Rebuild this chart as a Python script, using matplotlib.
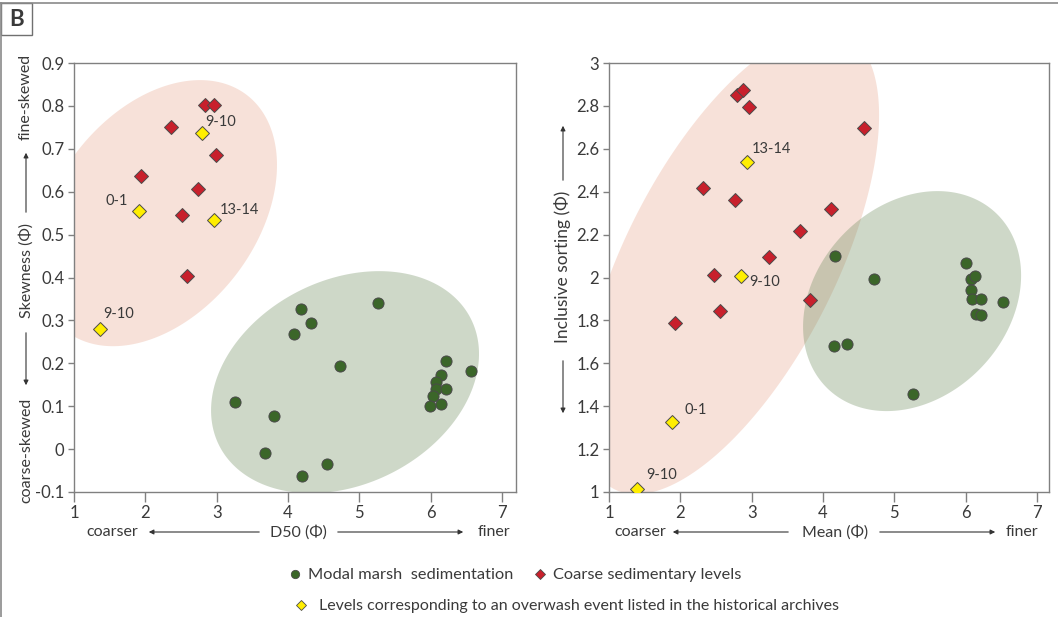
import numpy as np
import matplotlib
matplotlib.use("Agg")
import matplotlib.pyplot as plt
from matplotlib.patches import Polygon, Rectangle
from matplotlib.lines import Line2D

plt.rcParams['font.family'] = ['Lato', 'DejaVu Sans']

# ---------------- data ----------------
# Left panel: D50 vs Skewness
marsh_d50 = [5.26, 4.18, 4.32, 4.08, 4.73, 6.21, 6.56, 6.14, 6.07, 6.08, 6.21, 6.04, 5.99, 6.15,
             3.26, 3.81, 3.68, 4.55, 4.19]
marsh_skew = [0.340, 0.327, 0.295, 0.268, 0.193, 0.206, 0.182, 0.172, 0.157, 0.140, 0.140, 0.123,
              0.100, 0.105, 0.109, 0.078, -0.010, -0.034, -0.063]
coarse_d50 = [2.84, 2.96, 2.36, 2.99, 1.94, 2.74, 2.51, 2.58]
coarse_skew = [0.803, 0.803, 0.750, 0.685, 0.637, 0.607, 0.546, 0.403]
event_d50 = [2.80, 1.91, 2.96, 1.36]
event_skew = [0.737, 0.555, 0.535, 0.279]
event_labels_left = ["9-10", "0-1", "13-14", "9-10"]

# Right panel: Mean vs Inclusive sorting
marsh_mean = [4.17, 4.71, 6.00, 6.07, 6.13, 6.08, 6.09, 6.21, 6.53, 6.15, 6.21, 4.15, 4.34, 5.26]
marsh_sort = [2.100, 1.991, 2.067, 1.995, 2.005, 1.943, 1.901, 1.901, 1.886, 1.831, 1.823,
              1.679, 1.688, 1.458]
coarse_mean = [2.80, 2.88, 2.97, 4.57, 2.32, 2.76, 4.12, 3.68, 3.25, 2.47, 3.82, 2.56, 1.93]
coarse_sort = [2.852, 2.873, 2.793, 2.697, 2.416, 2.363, 2.319, 2.218, 2.097, 2.012, 1.894,
               1.844, 1.786]
event_mean = [2.94, 2.85, 1.89, 1.39]
event_sort = [2.540, 2.005, 1.326, 1.012]
event_labels_right = ["13-14", "9-10", "0-1", "9-10"]

left_yticks = [-0.1, 0, 0.1, 0.2, 0.3, 0.4, 0.5, 0.6, 0.7, 0.8, 0.9]
left_yticklabels = ["-0.1", "0", "0.1", "0.2", "0.3", "0.4", "0.5", "0.6", "0.7", "0.8", "0.9"]
right_yticks = [1, 1.2, 1.4, 1.6, 1.8, 2, 2.2, 2.4, 2.6, 2.8, 3]
right_yticklabels = ["1", "1.2", "1.4", "1.6", "1.8", "2", "2.2", "2.4", "2.6", "2.8", "3"]
xticks = [1, 2, 3, 4, 5, 6, 7]
xticklabels = ["1", "2", "3", "4", "5", "6", "7"]

# ---------------- style ----------------
W, H = 1058, 617
DPI = 100
GREEN = '#3b6629'
RED = '#c8202c'
YELLOW = '#ffee00'
EDGE = '#4a4a4a'
PINK_FILL = '#e8a58c'
GREEN_FILL = '#6b8a5a'
TXT = '#3a3a3a'
SPINE = '#808080'

fig = plt.figure(figsize=(W / DPI, H / DPI), dpi=DPI)

def px_axes(l, t, r, b):
    return fig.add_axes([l / W, 1 - b / H, (r - l) / W, (b - t) / H])

axL = px_axes(74, 63, 516, 492)
axR = px_axes(609, 63, 1049, 492)

axL.set_xlim(1, 7.197)
axL.set_ylim(-0.1, 0.9)
axR.set_xlim(1, 7.17)
axR.set_ylim(1, 3)

def ellipse(ax, cx, cy, a, b, ang, color, alpha):
    # semi-axes a, b given in pixels; centre in data coords
    c = ax.transData.transform((cx, cy))
    t = np.linspace(0, 2 * np.pi, 400)
    th = np.deg2rad(ang)
    xs = c[0] + a * np.cos(t) * np.cos(th) - b * np.sin(t) * np.sin(th)
    ys = c[1] + a * np.cos(t) * np.sin(th) + b * np.sin(t) * np.cos(th)
    pts = ax.transData.inverted().transform(np.column_stack([xs, ys]))
    ax.add_patch(Polygon(pts, closed=True, facecolor=color, alpha=alpha,
                         edgecolor='none', zorder=1))

ellipse(axL, 2.157, 0.550, 148.7, 100.5, 52.7, PINK_FILL, 0.33)
ellipse(axL, 4.80, 0.156, 140.9, 102.1, 26.7, GREEN_FILL, 0.33)
ellipse(axR, 2.70, 2.072, 255, 105, 63, PINK_FILL, 0.33)
ellipse(axR, 5.25, 1.890, 121.6, 95.9, 46.1, GREEN_FILL, 0.33)

def plot_panel(ax, mx, my, cx, cy, ex, ey):
    ax.plot(mx, my, 'o', ms=8, mfc=GREEN, mec=EDGE, mew=0.7, ls='none', zorder=3)
    ax.plot(cx, cy, 'D', ms=7, mfc=RED, mec=EDGE, mew=0.7, ls='none', zorder=3)
    ax.plot(ex, ey, 'D', ms=7, mfc=YELLOW, mec=EDGE, mew=0.7, ls='none', zorder=4)

plot_panel(axL, marsh_d50, marsh_skew, coarse_d50, coarse_skew, event_d50, event_skew)
plot_panel(axR, marsh_mean, marsh_sort, coarse_mean, coarse_sort, event_mean, event_sort)

# labels next to event points (offsets in pixels)
offL = [(3, 11, 'left'), (-11, 10, 'right'), (6, 10, 'left'), (4, 15, 'left')]
for x, y, lab, (dx, dy, ha) in zip(event_d50, event_skew, event_labels_left, offL):
    axL.annotate(lab, (x, y), xytext=(dx, dy), textcoords='offset pixels',
                 ha=ha, va='center', fontsize=10.5, color=TXT, zorder=5)
offR = [(4, 13, 'left'), (8, -6, 'left'), (12, 12, 'left'), (9, 14, 'left')]
for x, y, lab, (dx, dy, ha) in zip(event_mean, event_sort, event_labels_right, offR):
    axR.annotate(lab, (x, y), xytext=(dx, dy), textcoords='offset pixels',
                 ha=ha, va='center', fontsize=10.5, color=TXT, zorder=5)

for ax, yt, ytl in [(axL, left_yticks, left_yticklabels), (axR, right_yticks, right_yticklabels)]:
    ax.set_xticks(xticks)
    ax.set_xticklabels(xticklabels)
    ax.set_yticks(yt)
    ax.set_yticklabels(ytl)
    for s in ax.spines.values():
        s.set_color(SPINE)
        s.set_linewidth(1.0)
    ax.tick_params(axis='x', direction='out', length=7, width=1, color=SPINE,
                   labelsize=12, labelcolor=TXT, pad=2)
    ax.tick_params(axis='y', direction='out', length=4, width=1, color=SPINE,
                   labelsize=12, labelcolor=TXT, pad=3)
    ax.set_facecolor('none')

# ---------------- axis label composites ----------------
def ftext(x, y, s, **kw):
    fig.text(x / W, 1 - y / H, s, color=TXT, **kw)

def farrow(x0, y0, x1, y1):
    fig.add_artist(matplotlib.patches.FancyArrowPatch(
        (x0 / W, 1 - y0 / H), (x1 / W, 1 - y1 / H), transform=fig.transFigure,
        arrowstyle='-|>', mutation_scale=7, lw=0.8, color='#333333'))

# left y label
LX = 26
ftext(LX, 97, 'fine-skewed', rotation=90, ha='center', va='center', fontsize=11.5)
farrow(LX, 215, LX, 150)
ftext(LX, 271, 'Skewness (Φ)', rotation=90, ha='center', va='center', fontsize=11.5)
farrow(LX, 330, LX, 388)
ftext(LX, 450, 'coarse-skewed', rotation=90, ha='center', va='center', fontsize=11.5)

# right y label
farrow(563, 183, 563, 123)
ftext(563, 267, 'Inclusive sorting (Φ)', rotation=90, ha='center', va='center', fontsize=12.5)
farrow(563, 358, 563, 416)

# x labels
ytx = 532
ftext(112, ytx, 'coarser', ha='center', va='center', fontsize=11.5)
farrow(262, ytx, 146, ytx)
ftext(298, ytx, 'D50 (Φ)', ha='center', va='center', fontsize=11.5)
farrow(335, ytx, 466, ytx)
ftext(494, ytx, 'finer', ha='center', va='center', fontsize=11.5)

ftext(640, ytx, 'coarser', ha='center', va='center', fontsize=11.5)
farrow(791, ytx, 670, ytx)
ftext(835, ytx, 'Mean (Φ)', ha='center', va='center', fontsize=11.5)
farrow(877, ytx, 998, ytx)
ftext(1022, ytx, 'finer', ha='center', va='center', fontsize=11.5)

# ---------------- legends ----------------
h1 = [Line2D([], [], marker='o', ls='none', ms=6, mfc=GREEN, mec=EDGE, mew=0.6),
      Line2D([], [], marker='D', ls='none', ms=5, mfc=RED, mec=EDGE, mew=0.6)]
leg1 = fig.legend(h1, ['Modal marsh  sedimentation', 'Coarse sedimentary levels'],
                  loc='center', bbox_to_anchor=(514 / W, 1 - 575 / H), ncol=2, frameon=False,
                  fontsize=11.8, handletextpad=0.3, columnspacing=1.1, handlelength=1.0,
                  labelcolor=TXT)
h2 = [Line2D([], [], marker='D', ls='none', ms=5, mfc=YELLOW, mec=EDGE, mew=0.6)]
leg2 = fig.legend(h2, ['Levels corresponding to an overwash event listed in the historical archives'],
                  loc='center', bbox_to_anchor=(566 / W, 1 - 606 / H), ncol=1, frameon=False,
                  fontsize=11.5, handletextpad=0.6, handlelength=1.0, labelcolor=TXT)

# ---------------- frame & panel letter ----------------
fig.add_artist(Line2D([0, 1], [1 - 3 / H, 1 - 3 / H], transform=fig.transFigure,
                      color='#8a8a8a', lw=1.2))
fig.add_artist(Line2D([1 / W, 1 / W], [0, 1 - 3 / H], transform=fig.transFigure,
                      color='#8a8a8a', lw=1.2))
fig.add_artist(Rectangle((1 / W, 1 - 35 / H), 31 / W, 32 / H, transform=fig.transFigure,
                         facecolor='white', edgecolor='#707070', lw=1.0))
ftext(17, 20, 'B', ha='center', va='center', fontsize=16, fontweight='bold')

fig.savefig('out.png', dpi=DPI)
